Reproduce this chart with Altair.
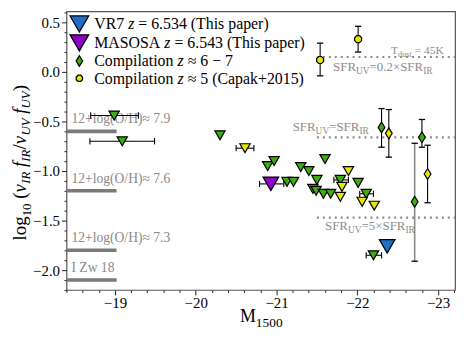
import altair as alt
import pandas as pd

# ---------------- data ----------------
# upper limits (downward triangles): compilation z~6-7
comp_lim_x = [-18.99, -19.09, -20.30, -20.89, -20.97, -21.13, -21.21, -21.30, -21.40,
              -21.60, -21.50, -21.45, -21.49, -21.58, -21.67, -21.79, -22.01, -22.11, -22.20]
comp_lim_y = [-0.44, -0.70, -0.64, -0.95, -0.90, -1.11, -1.11, -0.96, -1.00,
              -0.88, -1.09, -1.18, -1.20, -1.23, -1.23, -1.09, -1.12, -1.23, -1.85]
# upper limits: z~5 (Capak+2015)
capak_lim_x = [-20.61, -21.79, -21.81, -21.89, -22.06, -22.21]
capak_lim_y = [-0.77, -1.26, -1.16, -1.00, -1.31, -1.35]
# this paper
vr7_x, vr7_y = [-22.37], [-1.76]
masosa_x, masosa_y = [-20.93], [-1.13]
# horizontal error bars on the upper limits
xerr_y = [-0.44, -0.70, -1.09, -1.23, -1.85, -0.77, -1.13]
xerr_lo = [-18.70, -18.69, -21.71, -22.03, -22.11, -20.50, -20.79]
xerr_hi = [-19.29, -19.49, -21.89, -22.20, -22.30, -20.72, -21.09]
# detections with vertical error bars
comp_det_x = [-22.30, -22.80, -22.71]
comp_det_y = [-0.56, -0.66, -1.31]
comp_det_lo = [-0.76, -0.76, -1.91]
comp_det_hi = [-0.37, -0.48, -0.72]
z5_det_x = [-22.39, -22.87]
z5_det_y = [-0.62, -1.03]
z5_det_lo = [-0.86, -1.32]
z5_det_hi = [-0.38, -0.74]
capak_det_x = [-21.54, -22.01]
capak_det_y = [0.12, 0.33]
capak_det_lo = [-0.04, 0.20]
capak_det_hi = [0.29, 0.46]
# reference lines
met_y = [-0.60, -1.20, -1.80, -2.10]
met_label = ["12+log(O/H)\u2248 7.9", "12+log(O/H)\u2248 7.6", "12+log(O/H)\u2248 7.3", "I Zw 18"]
met_x_end = -19.02
sfr_y = [0.15, -0.66, -1.47]
sfr_x_start = -21.50
x_ticks = [-19, -20, -21, -22, -23]
y_ticks = [0.5, 0.0, -0.5, -1.0, -1.5, -2.0]

# ---------------- style ----------------
FONT = "Liberation Serif"
GREEN, YELLOW, BLUE, PURPLE = "#3cac10", "#e6e600", "#1f6fc5", "#8b05c6"
GREY = "#7a7a7a"
X_DOM = [-23.21, -18.40]
Y_DOM = [-2.20, 0.61]
W, H = 392, 281

xs = alt.Scale(domain=X_DOM, reverse=True, nice=False, zero=False)
ys = alt.Scale(domain=Y_DOM, nice=False, zero=False)


def X(f):
    return alt.X(f, type="quantitative", scale=xs, axis=None)


def Y(f):
    return alt.Y(f, type="quantitative", scale=ys, axis=None)


DIAMOND = "M0,-1L0.62,0L0,1L-0.62,0Z"
OCTAGON = "M-0.41,-1L0.41,-1L1,-0.41L1,0.41L0.41,1L-0.41,1L-1,0.41L-1,-0.41Z"
VCAP = "M0,-1L0,1"
HCAP = "M-1,0L1,0"

# text width helper (Times-like metrics, em units) for composed sub/superscript labels
WID = {c: 0.5 for c in "0123456789"}
WID.update({' ': 0.25, '(': 0.333, ')': 0.333, '/': 0.278, '+': 0.564, '=': 0.564,
            '\u00d7': 0.564, '\u2248': 0.549, '\u2212': 0.564, '.': 0.25,
            'A': 0.722, 'C': 0.667, 'F': 0.556, 'H': 0.722, 'I': 0.333, 'K': 0.722,
            'M': 0.889, 'O': 0.722, 'R': 0.667, 'S': 0.556, 'T': 0.611, 'U': 0.722,
            'V': 0.722, 'Z': 0.611, 'a': 0.444, 'c': 0.444, 'd': 0.5, 'e': 0.444,
            'g': 0.5, 'h': 0.5, 'i': 0.278, 'k': 0.5, 'l': 0.278, 'm': 0.778, 'n': 0.5,
            'o': 0.5, 'p': 0.5, 'r': 0.333, 's': 0.389, 't': 0.278, 'u': 0.5,
            'w': 0.722, 'z': 0.444, 'f': 0.333, '\u03bd': 0.5})
WID_IT = {'f': 0.278, 'z': 0.389, 'I': 0.333, 'R': 0.611, 'U': 0.722, 'V': 0.611, '\u03bd': 0.46}


def twidth(s, size, italic=False):
    return sum((WID_IT.get(c) if italic and c in WID_IT else WID.get(c, 0.5)) for c in s) * size


def rich(pieces, enc, data=None, angle=0, color="black", baseline="alphabetic", right=False):
    total = sum(twidth(t, s, it) for t, s, it, _ in pieces)
    off = -total if right else 0.0
    out = []
    for t, s, it, dy in pieces:
        lead = len(t) - len(t.lstrip(" "))
        off += twidth(" " * lead, s)
        core = t.strip(" ")
        ch = alt.Chart(data if data is not None else alt.Data(values=[{}]))
        out.append(ch.mark_text(text=core, font=FONT, fontSize=s, fontStyle="italic" if it else "normal",
                                color=color, align="left", baseline=baseline, angle=angle,
                                dx=off, dy=dy).encode(**enc))
        off += twidth(t.lstrip(" "), s, it)
    return out


# ---------------- layers ----------------
met_df = pd.DataFrame({"y": met_y, "x0": [X_DOM[1]] * len(met_y), "x1": [met_x_end] * len(met_y),
                       "lab": met_label, "ly": [v + 0.08 for v in met_y]})

major_axes = alt.Chart(met_df).mark_rule(color=GREY, strokeWidth=3.6).encode(
    x=alt.X("x0:Q", scale=xs, axis=alt.Axis(values=x_ticks, format="d", orient="bottom")),
    x2="x1",
    y=alt.Y("y:Q", scale=ys, axis=alt.Axis(values=y_ticks, format=".1f", orient="left")),
)
met_text = alt.Chart(met_df).mark_text(font=FONT, fontSize=13.7, color="#8a8a8a", align="left",
                                       baseline="alphabetic", dx=5).encode(
    x=alt.X("x0:Q", scale=xs, axis=None), y=Y("ly"), text="lab:N")

x_minor = [round(-18.4 - 0.2 * i, 1) for i in range(25)]
x_minor = [v for v in x_minor if abs(v - round(v)) > 1e-6]
y_minor = [round(-2.2 + 0.1 * i, 1) for i in range(29)]
y_minor = [v for v in y_minor if abs(v * 2 - round(v * 2)) > 1e-6]
minor_axes = alt.Chart(met_df).mark_point(opacity=0).encode(
    x=alt.X("x0:Q", scale=xs, axis=alt.Axis(values=x_minor, labels=False, tickSize=2.5, orient="bottom")),
    y=alt.Y("y:Q", scale=ys, axis=alt.Axis(values=y_minor, labels=False, tickSize=2.5, orient="left")),
)

sfr_df = pd.DataFrame({"y": sfr_y, "x0": [sfr_x_start] * 3, "x1": [X_DOM[0]] * 3})
sfr_lines = alt.Chart(sfr_df).mark_rule(color="#8c8c8c", strokeWidth=2.2, strokeDash=[2, 4]).encode(
    x=X("x0"), x2="x1", y=Y("y"))


def anchor(xv, yv):
    df = pd.DataFrame({"x": [xv], "y": [yv]})
    return df, dict(x=X("x"), y=Y("y"))


SFRC = "#8c8c8c"
ann = []
d, e = anchor(-21.70, 0.005)
ann += rich([("SFR", 13, False, 0), ("UV", 9.5, False, 3), ("=0.2\u00d7SFR", 13, False, 0), ("IR", 9.5, False, 3)],
            e, d, color=SFRC)
d, e = anchor(-21.20, -0.60)
ann += rich([("SFR", 13, False, 0), ("UV", 9.5, False, 3), ("=SFR", 13, False, 0), ("IR", 9.5, False, 3)],
            e, d, color=SFRC)
d, e = anchor(-21.60, -1.60)
ann += rich([("SFR", 13, False, 0), ("UV", 9.5, False, 3), ("=5\u00d7SFR", 13, False, 0), ("IR", 9.5, False, 3)],
            e, d, color=SFRC)
d, e = anchor(-23.07, 0.177)
ann += rich([("T", 11.5, False, 0), ("dust", 8.5, False, 2.5), (" = 45K", 11.5, False, 0)],
            e, d, color=SFRC, right=True)

# error bars
xerr_df = pd.DataFrame({"y": xerr_y, "lo": xerr_lo, "hi": xerr_hi})
xcap_df = pd.DataFrame({"y": xerr_y * 2, "x": xerr_lo + xerr_hi})
xerr_rules = alt.Chart(xerr_df).mark_rule(color="black", strokeWidth=1.1).encode(x=X("lo"), x2="hi", y=Y("y"))
xerr_caps = alt.Chart(xcap_df).mark_point(shape=VCAP, size=40, color="black", strokeWidth=1.1,
                                          filled=False, opacity=1).encode(x=X("x"), y=Y("y"))

ye_x = comp_det_x[:2] + z5_det_x + capak_det_x
ye_lo = comp_det_lo[:2] + z5_det_lo + capak_det_lo
ye_hi = comp_det_hi[:2] + z5_det_hi + capak_det_hi
yerr_df = pd.DataFrame({"x": ye_x, "lo": ye_lo, "hi": ye_hi})
ycap_df = pd.DataFrame({"x": ye_x * 2 + comp_det_x[2:] * 2, "y": ye_lo + ye_hi + comp_det_lo[2:] + comp_det_hi[2:]})
wide_df = pd.DataFrame({"x": comp_det_x[2:], "lo": comp_det_lo[2:], "hi": comp_det_hi[2:]})
yerr_rules = alt.Chart(yerr_df).mark_rule(color="black", strokeWidth=1.1).encode(x=X("x"), y=Y("lo"), y2="hi")
yerr_wide = alt.Chart(wide_df).mark_rule(color="#8a8a8a", strokeWidth=1.6).encode(x=X("x"), y=Y("lo"), y2="hi")
yerr_caps = alt.Chart(ycap_df).mark_point(shape=HCAP, size=40, color="black", strokeWidth=1.3,
                                          filled=False, opacity=1).encode(x=X("x"), y=Y("y"))


def pts(xv, yv, shape, fill, size):
    df = pd.DataFrame({"x": xv, "y": yv})
    return alt.Chart(df).mark_point(shape=shape, size=size, filled=True, fill=fill, stroke="black",
                                    strokeWidth=1.2, opacity=1).encode(x=X("x"), y=Y("y"))


markers = [
    pts(comp_lim_x, comp_lim_y, "triangle-down", GREEN, 108),
    pts(capak_lim_x, capak_lim_y, "triangle-down", YELLOW, 108),
    pts(comp_det_x, comp_det_y, DIAMOND, GREEN, 120),
    pts(z5_det_x, z5_det_y, DIAMOND, YELLOW, 120),
    pts(capak_det_x, capak_det_y, OCTAGON, YELLOW, 50),
    pts(masosa_x, masosa_y, "triangle-down", PURPLE, 250),
    pts(vr7_x, vr7_y, "triangle-down", BLUE, 250),
]

# legend (manual, top-left inside the frame)
LF = 16
leg = []
rows = [
    ("triangle-down", BLUE, 350, [("VR7 ", LF, False, 0), ("z", LF, True, 0), (" = 6.534 (This paper)", LF, False, 0)]),
    ("triangle-down", PURPLE, 350, [("MASOSA ", LF, False, 0), ("z", LF, True, 0), (" = 6.543 (This paper)", LF, False, 0)]),
    (DIAMOND, GREEN, 110, [("Compilation ", LF, False, 0), ("z", LF, True, 0), (" \u2248 6 \u2212 7", LF, False, 0)]),
    (OCTAGON, YELLOW, 40, [("Compilation ", LF, False, 0), ("z", LF, True, 0), (" \u2248 5 (Capak+2015)", LF, False, 0)]),
]
row_y = [12.7, 31.7, 50.0, 67.5]
for (shape, fill, size, pieces), ry in zip(rows, row_y):
    leg.append(alt.Chart(alt.Data(values=[{}])).mark_point(shape=shape, size=size, filled=True, fill=fill,
                                                          stroke="black", strokeWidth=1.3, opacity=1).encode(
        x=alt.value(13), y=alt.value(ry)))
    leg += rich(pieces, dict(x=alt.value(28), y=alt.value(ry + 5.5)))

# axis titles composed from pieces (sub-scripts)
titles = []
titles += rich([("M", 18, False, 0), ("1500", 13.5, False, 5)], dict(x=alt.value(175), y=alt.value(313)))
titles += rich([("log", 19, False, 0), ("10", 13, False, 5), (" (", 19, False, 0), ("\u03bd", 19, True, 0),
                ("IR", 13, True, 4), (" f", 19, True, 0), ("IR", 13, True, 4), ("/", 19, False, 0),
                ("\u03bd", 19, True, 0), ("UV", 13, True, 4), (" f", 19, True, 0), ("UV", 13, True, 4),
                (")", 19, False, 0)],
               dict(x=alt.value(-41), y=alt.value(231)), angle=270)

chart = alt.layer(
    major_axes, minor_axes, met_text, sfr_lines, *ann,
    xerr_rules, xerr_caps, yerr_wide, yerr_rules, yerr_caps,
    *markers, *leg, *titles,
).resolve_axis(x="independent", y="independent").properties(
    width=W, height=H, autosize=alt.AutoSizeParams(type="none"),
    padding={"left": 59, "top": 2, "right": 6, "bottom": 45},
).configure_axis(
    labelFont=FONT, labelFontSize=15, labelColor="black", tickColor="#222", tickWidth=1,
    tickSize=5, domain=False, grid=False, title=None, labelPadding=2,
).configure_axisX(labelPadding=1).configure_view(stroke="#555", strokeWidth=1.2)

chart.save("out.html", embed_options={"renderer": "svg", "actions": False})
